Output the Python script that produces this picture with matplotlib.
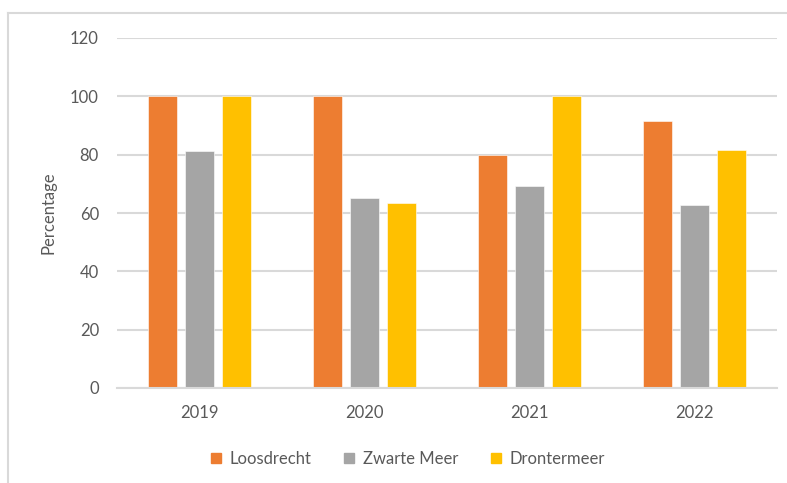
import numpy as np
import matplotlib.pyplot as plt
from matplotlib.lines import Line2D
from matplotlib.patches import Patch

years = ["2019", "2020", "2021", "2022"]
loosdrecht = [100, 100, 80, 91.6]
zwarte_meer = [81.4, 65.1, 69.1, 62.6]
drontermeer = [100, 63.3, 100, 81.5]

series = [("Loosdrecht", loosdrecht, "#ED7D31"),
          ("Zwarte Meer", zwarte_meer, "#A5A5A5"),
          ("Drontermeer", drontermeer, "#FFC000")]

plt.rcParams['font.family'] = ['Lato', 'DejaVu Sans']
txt = "#595959"
grid = "#d9d9d9"

fig = plt.figure(figsize=(7.87, 4.83), dpi=100)
ax = fig.add_axes([117 / 787, 1 - 388 / 483, 660 / 787, 350 / 483])

x = np.arange(len(years))
w = 0.176
step = 0.224
for i, (name, vals, col) in enumerate(series):
    ax.bar(x + (i - 1) * step, vals, width=w, color=col, label=name,
           edgecolor="white", linewidth=0.4, zorder=3)

ax.set_xlim(-0.5, len(years) - 0.5)
ax.set_ylim(0, 120)
ax.set_yticks(range(0, 121, 20))
ax.set_xticks(x)
ax.set_xticklabels(years)
ax.grid(axis="y", color=grid, linewidth=1.5, zorder=0)
ax.tick_params(length=0, colors=txt, labelsize=12)
ax.tick_params(axis="y", pad=13)
ax.tick_params(axis="x", pad=12)
for s in ["top", "right", "left"]:
    ax.spines[s].set_visible(False)
ax.spines["bottom"].set_color(grid)
ax.spines["bottom"].set_linewidth(1.5)
ax.spines["bottom"].set_zorder(4)

fig.text(48 / 787, 1 - 213 / 483, "Percentage", rotation=90, ha="center",
         va="center", color=txt, fontsize=12)

handles = [Patch(color=c, label=n) for n, _, c in series]
fig.legend(handles=handles, loc="center", bbox_to_anchor=(408 / 787, 1 - 459 / 483),
           ncol=3, frameon=False, fontsize=12, labelcolor=txt,
           handlelength=0.6, handleheight=0.6, handletextpad=0.5, columnspacing=2.0)

# chart border (cropped: only left and top visible)
fig.add_artist(Line2D([8 / 787, 8 / 787], [0, 1 - 13 / 483], color=grid, lw=1.5))
fig.add_artist(Line2D([8 / 787, 1], [1 - 13 / 483, 1 - 13 / 483], color=grid, lw=1.5))

fig.savefig("out.png", dpi=100)
